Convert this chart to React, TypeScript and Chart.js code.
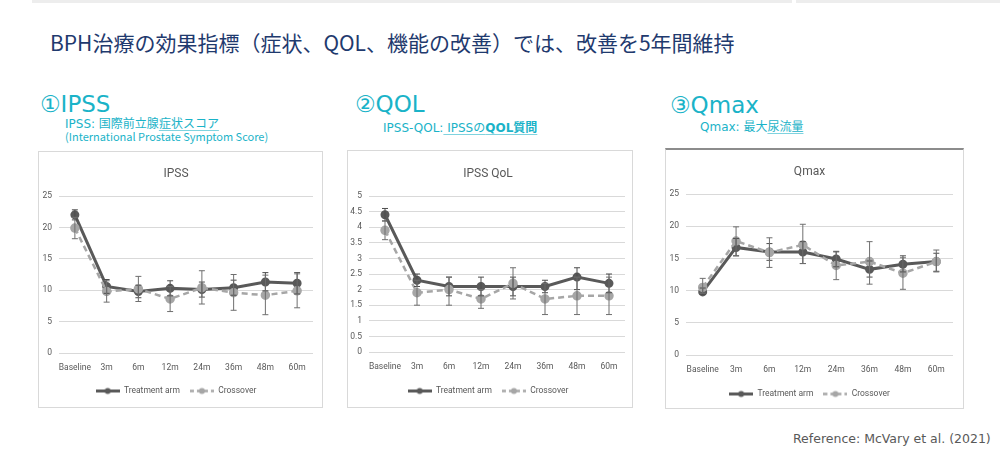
import React, { useEffect, useRef } from 'react';
import { Chart, registerables } from 'chart.js';

Chart.register(...registerables);

// ---------- data ----------
const categories = ['Baseline', '3m', '6m', '12m', '24m', '36m', '48m', '60m'];

const ipssTreatment = [22.0, 10.6, 9.8, 10.3, 10.1, 10.4, 11.3, 11.1];
const ipssTreatmentHi = [22.8, 11.7, 10.8, 11.5, 11.3, 11.6, 12.8, 12.8];
const ipssTreatmentLo = [21.2, 9.5, 8.8, 9.1, 8.9, 9.2, 9.9, 9.4];
const ipssCrossover = [19.9, 9.8, 10.2, 8.6, 10.4, 9.6, 9.2, 9.9];
const ipssCrossoverHi = [21.6, 11.5, 12.2, 10.6, 13.1, 12.5, 12.4, 12.6];
const ipssCrossoverLo = [18.2, 8.1, 8.2, 6.6, 7.8, 6.8, 6.1, 7.2];

const qolTreatment = [4.4, 2.3, 2.1, 2.1, 2.1, 2.1, 2.4, 2.2];
const qolTreatmentHi = [4.6, 2.5, 2.4, 2.4, 2.4, 2.3, 2.7, 2.5];
const qolTreatmentLo = [4.2, 2.1, 1.8, 1.8, 1.8, 1.9, 2.0, 1.9];
const qolCrossover = [3.9, 1.9, 2.0, 1.7, 2.2, 1.7, 1.8, 1.8];
const qolCrossoverHi = [4.2, 2.3, 2.4, 2.0, 2.7, 2.2, 2.4, 2.4];
const qolCrossoverLo = [3.6, 1.5, 1.5, 1.4, 1.7, 1.2, 1.2, 1.2];

const qmaxTreatment = [9.8, 16.7, 16.0, 16.0, 14.9, 13.3, 14.1, 14.5];
const qmaxTreatmentHi = [10.4, 18.1, 17.3, 17.6, 16.1, 14.6, 15.4, 15.8];
const qmaxTreatmentLo = [9.4, 15.4, 14.7, 14.2, 13.7, 12.1, 12.9, 13.0];
const qmaxCrossover = [10.5, 17.7, 15.9, 17.1, 13.9, 14.5, 12.7, 14.5];
const qmaxCrossoverHi = [11.9, 19.9, 18.2, 20.3, 16.0, 17.6, 15.1, 16.3];
const qmaxCrossoverLo = [9.6, 15.4, 13.6, 14.2, 11.7, 11.0, 10.2, 12.9];

const seriesNames = ['Treatment arm', 'Crossover'];

// ---------- styles ----------
const CYAN = '#1ab3c8';
const NAVY = '#1f3a6e';
const TREAT_COLOR = '#595959';
const CROSS_COLOR = '#a6a6a6';
const GRID_COLOR = '#d9d9d9';
const TEXT_GREY = '#595959';
const CHART_FONT = 'Roboto, "Noto Sans", sans-serif';
const JP_FONT = '"Noto Sans CJK JP", "Noto Sans", sans-serif';
const SUB_FONT = '"DejaVu Sans", "Noto Sans CJK JP", sans-serif';
const HEAD_FONT = '"DejaVu Sans", "Noto Sans", sans-serif';

function legendImage(color: string, dashed: boolean, w: number, h: number) {
  const c = document.createElement('canvas');
  c.width = w;
  c.height = h;
  const g = c.getContext('2d')!;
  g.strokeStyle = color;
  g.lineWidth = dashed ? 2.5 : 3;
  if (dashed) g.setLineDash([4, 3]);
  g.beginPath();
  g.moveTo(0, h / 2);
  g.lineTo(w, h / 2);
  g.stroke();
  g.setLineDash([]);
  g.fillStyle = color;
  g.beginPath();
  g.arc(w / 2, h / 2, 3, 0, Math.PI * 2);
  g.fill();
  return c;
}

const errorBarPlugin = {
  id: 'errorBars',
  afterDatasetsDraw(chart: any) {
    const ctx = chart.ctx;
    const yScale = chart.scales.y;
    chart.data.datasets.forEach((ds: any, i: number) => {
      const meta = chart.getDatasetMeta(i);
      if (!ds.errHi) return;
      meta.data.forEach((pt: any, j: number) => {
        const x = pt.x;
        const yh = yScale.getPixelForValue(ds.errHi[j]);
        const yl = yScale.getPixelForValue(ds.errLo[j]);
        ctx.save();
        ctx.strokeStyle = ds.errColor;
        ctx.lineWidth = 1;
        ctx.beginPath();
        ctx.moveTo(x, yh);
        ctx.lineTo(x, yl);
        ctx.moveTo(x - 3, yh);
        ctx.lineTo(x + 3, yh);
        ctx.moveTo(x - 3, yl);
        ctx.lineTo(x + 3, yl);
        ctx.stroke();
        ctx.restore();
      });
    });
  },
};

type Geo = {
  W: number; H: number; left: number; right: number; top: number; bottom: number;
  titleY: number; legendFromBottom: number;
};

type ChartProps = {
  title: string;
  yMax: number;
  yStep: number;
  treat: number[]; treatHi: number[]; treatLo: number[];
  cross: number[]; crossHi: number[]; crossLo: number[];
  geo: Geo;
};

function LineChart(p: ChartProps) {
  const ref = useRef<HTMLCanvasElement | null>(null);
  useEffect(() => {
    if (!ref.current) return;
    const g = p.geo;
    const titleFont = 12;
    const titleLH = titleFont * 1.2;
    const legendFont = 8.5;
    const legendPad = 10;
    const legendH = legendFont + legendPad + 10;
    const treatImg = legendImage(TREAT_COLOR, false, 24, 9);
    const crossImg = legendImage(CROSS_COLOR, true, 24, 9);
    const chart = new Chart(ref.current, {
      type: 'line',
      data: {
        labels: categories,
        datasets: [
          {
            label: seriesNames[0],
            data: p.treat,
            borderColor: TREAT_COLOR,
            backgroundColor: TREAT_COLOR,
            borderWidth: 3,
            pointRadius: 3,
            pointBackgroundColor: TREAT_COLOR,
            pointBorderColor: TREAT_COLOR,
            tension: 0,
            order: 1,
            errHi: p.treatHi,
            errLo: p.treatLo,
            errColor: '#4d4d4d',
          } as any,
          {
            label: seriesNames[1],
            data: p.cross,
            borderColor: CROSS_COLOR,
            backgroundColor: CROSS_COLOR,
            borderWidth: 2.5,
            borderDash: [6, 4],
            pointRadius: 3.5,
            pointBackgroundColor: CROSS_COLOR,
            pointBorderColor: CROSS_COLOR,
            tension: 0,
            order: 0,
            errHi: p.crossHi,
            errLo: p.crossLo,
            errColor: '#6f6f6f',
          } as any,
        ],
      },
      options: {
        animation: false,
        responsive: false,
        events: [],
        layout: {
          padding: {
            left: 0,
            right: g.W - g.right,
            top: 0,
            bottom: g.legendFromBottom - legendH / 2,
          },
        },
        plugins: {
          tooltip: { enabled: false },
          title: {
            display: true,
            text: p.title,
            color: TEXT_GREY,
            font: { family: CHART_FONT, size: titleFont, weight: 'normal' as any },
            padding: { top: g.titleY - titleLH / 2, bottom: g.top - g.titleY - titleLH / 2 },
          },
          legend: {
            display: true,
            position: 'bottom',
            labels: {
              color: TEXT_GREY,
              font: { family: CHART_FONT, size: legendFont },
              usePointStyle: true,
              pointStyleWidth: 24,
              padding: legendPad,
              generateLabels: () => [
                { text: seriesNames[0], pointStyle: treatImg as any, fillStyle: TREAT_COLOR, strokeStyle: TREAT_COLOR, lineWidth: 0, hidden: false, datasetIndex: 0, fontColor: TEXT_GREY } as any,
                { text: seriesNames[1], pointStyle: crossImg as any, fillStyle: CROSS_COLOR, strokeStyle: CROSS_COLOR, lineWidth: 0, hidden: false, datasetIndex: 1, fontColor: TEXT_GREY } as any,
              ],
            },
          },
        },
        scales: {
          x: {
            offset: true,
            grid: { display: false, drawTicks: false },
            border: { display: false },
            ticks: {
              color: TEXT_GREY,
              font: { family: CHART_FONT, size: 8.5 },
              padding: 10,
              maxRotation: 0,
              autoSkip: false,
            },
            afterFit: (s: any) => {
              s.height = g.H - g.bottom - g.legendFromBottom - legendH / 2;
            },
          },
          y: {
            min: 0,
            max: p.yMax,
            grid: { color: GRID_COLOR, lineWidth: 1, drawTicks: false },
            border: { display: false },
            ticks: {
              stepSize: p.yStep,
              color: TEXT_GREY,
              font: { family: CHART_FONT, size: 8.5 },
              padding: 7,
              callback: (v: any) => String(+v),
            },
            afterFit: (s: any) => {
              s.width = g.left;
            },
          },
        },
      },
      plugins: [errorBarPlugin],
    });
    return () => chart.destroy();
  }, []);
  return <canvas ref={ref} width={p.geo.W} height={p.geo.H} style={{ display: 'block' }} />;
}

function Txt(props: { x: number; y: number; size: number; color: string; font: string; children: any; weight?: number | string }) {
  return (
    <div
      style={{
        position: 'absolute',
        left: props.x,
        top: props.y - props.size * 0.6,
        fontSize: props.size,
        lineHeight: `${props.size * 1.2}px`,
        color: props.color,
        fontFamily: props.font,
        fontWeight: props.weight ?? 'normal',
        whiteSpace: 'nowrap',
      }}
    >
      {props.children}
    </div>
  );
}

export default function App() {
  useEffect(() => {
    document.body.style.margin = '0';
  }, []);
  const ul = { textDecoration: 'underline', textDecorationColor: '#7fd3df', textUnderlineOffset: 2 } as any;
  return (
    <div style={{ position: 'relative', width: 1000, height: 465, background: '#fff', overflow: 'hidden' }}>
      <div style={{ position: 'absolute', left: 32, top: 0, width: 760, height: 3, background: '#ededed' }} />
      <div style={{ position: 'absolute', left: 796, top: 0, width: 204, height: 3, background: '#ededed' }} />

      <Txt x={50} y={43} size={21} color={NAVY} font={JP_FONT}>
        BPH治療の効果指標（症状、QOL、機能の改善）では、改善を5年間維持
      </Txt>

      <Txt x={40} y={105} size={23} color={CYAN} font={HEAD_FONT}>①IPSS</Txt>
      <Txt x={65} y={124} size={12} color={CYAN} font={SUB_FONT}>
        IPSS: 国際前立腺<span style={ul}>症状スコア</span>
      </Txt>
      <Txt x={65} y={137} size={11} color={CYAN} font={JP_FONT}>(International Prostate Symptom Score)</Txt>

      <Txt x={355} y={105} size={23} color={CYAN} font={HEAD_FONT}>②QOL</Txt>
      <Txt x={383} y={128} size={12} color={CYAN} font={SUB_FONT}>
        IPSS-QOL:<span style={ul}> IPSSの<b>QOL質問</b></span>
      </Txt>

      <Txt x={670} y={106} size={23} color={CYAN} font={HEAD_FONT}>③Qmax</Txt>
      <Txt x={700} y={127} size={12} color={CYAN} font={SUB_FONT}>
        Qmax: 最大<span style={ul}>尿流量</span>
      </Txt>

      <div style={{ position: 'absolute', left: 38, top: 151, width: 283, height: 255, border: `1px solid ${GRID_COLOR}` }}>
        <LineChart
          title="IPSS"
          yMax={25}
          yStep={5}
          treat={ipssTreatment} treatHi={ipssTreatmentHi} treatLo={ipssTreatmentLo}
          cross={ipssCrossover} crossHi={ipssCrossoverHi} crossLo={ipssCrossoverLo}
          geo={{ W: 283, H: 255, left: 20, right: 274, top: 44, bottom: 201, titleY: 22, legendFromBottom: 16 }}
        />
      </div>

      <div style={{ position: 'absolute', left: 347, top: 150, width: 284, height: 256, border: `1px solid ${GRID_COLOR}` }}>
        <LineChart
          title="IPSS QoL"
          yMax={5}
          yStep={0.5}
          treat={qolTreatment} treatHi={qolTreatmentHi} treatLo={qolTreatmentLo}
          cross={qolCrossover} crossHi={qolCrossoverHi} crossLo={qolCrossoverLo}
          geo={{ W: 284, H: 256, left: 21, right: 280, top: 45, bottom: 201, titleY: 23, legendFromBottom: 16 }}
        />
      </div>

      <div style={{ position: 'absolute', left: 665, top: 148, width: 297, height: 258, borderLeft: `1px solid ${GRID_COLOR}`, borderRight: `1px solid ${GRID_COLOR}`, borderBottom: `1px solid ${GRID_COLOR}`, borderTop: '2px solid #8c8c8c' }}>
        <LineChart
          title="Qmax"
          yMax={25}
          yStep={5}
          treat={qmaxTreatment} treatHi={qmaxTreatmentHi} treatLo={qmaxTreatmentLo}
          cross={qmaxCrossover} crossHi={qmaxCrossoverHi} crossLo={qmaxCrossoverLo}
          geo={{ W: 297, H: 258, left: 20, right: 287, top: 44, bottom: 205, titleY: 22, legendFromBottom: 14 }}
        />
      </div>

      <Txt x={793} y={438} size={12.5} color={TEXT_GREY} font={HEAD_FONT}>Reference: McVary et al. (2021)</Txt>
    </div>
  );
}
